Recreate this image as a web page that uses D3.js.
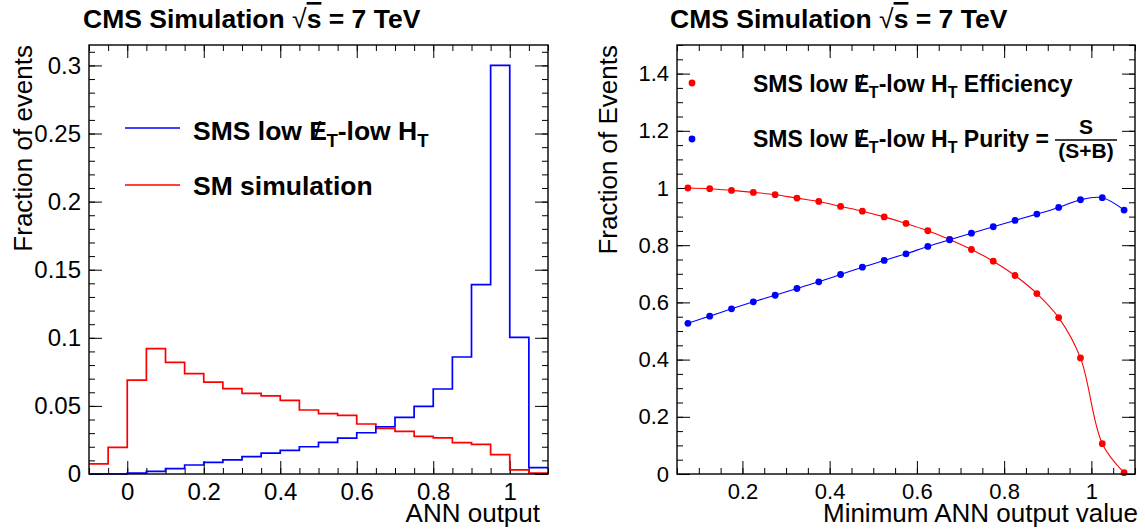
<!DOCTYPE html>
<html>
<head>
<meta charset="utf-8">
<script src="https://cdn.jsdelivr.net/npm/d3@7"></script>
<style>
body { margin: 0; background: #fff; }
svg { font-family: "Liberation Sans", Arial, Helvetica, sans-serif; }
</style>
</head>
<body>
<svg id="chart" width="1145" height="530"></svg>
<script>
// left pad: ANN output, bins of 0.05 (low edges)
const binLow = [-0.1, -0.05, 0, 0.05, 0.1, 0.15, 0.2, 0.25, 0.3, 0.35, 0.4, 0.45,
                0.5, 0.55, 0.6, 0.65, 0.7, 0.75, 0.8, 0.85, 0.9, 0.95, 1.0, 1.05];
const binHigh = 1.1;
const smsFrac = [0, 0, 0.0007, 0.0019, 0.004, 0.0066, 0.0085, 0.0103, 0.0127, 0.0154, 0.0174, 0.02,
                 0.0232, 0.0264, 0.0303, 0.0347, 0.0416, 0.0497, 0.0624, 0.0859, 0.139, 0.300, 0.1003, 0.0047];
const smFrac = [0.0075, 0.0195, 0.069, 0.092, 0.082, 0.0737, 0.0675, 0.0627, 0.0592, 0.0573, 0.054, 0.047,
                0.0443, 0.0431, 0.0367, 0.0335, 0.0313, 0.0277, 0.0265, 0.023, 0.0218, 0.0142, 0.003, 0.0007];
const xLeftTicks = [0, 0.2, 0.4, 0.6, 0.8, 1];
const yLeftTicks = [0, 0.05, 0.1, 0.15, 0.2, 0.25, 0.3];

// right pad: efficiency / purity vs cut
const annCut = [0.075, 0.125, 0.175, 0.225, 0.275, 0.325, 0.375, 0.425, 0.475, 0.525, 0.575,
                0.625, 0.675, 0.725, 0.775, 0.825, 0.875, 0.925, 0.975, 1.025, 1.075];
const efficiency = [1.0, 0.9975, 0.9916, 0.9846, 0.9765, 0.9647, 0.953, 0.9356, 0.919, 0.899, 0.876,
                    0.8505, 0.82, 0.785, 0.744, 0.694, 0.631, 0.547, 0.406, 0.106, 0.0045];
const purity = [0.527, 0.552, 0.5775, 0.602, 0.625, 0.6486, 0.672, 0.6975, 0.723, 0.7466, 0.77,
                0.7956, 0.819, 0.842, 0.8645, 0.8866, 0.9087, 0.932, 0.959, 0.966, 0.9227];
const xRightTicks = [0.2, 0.4, 0.6, 0.8, 1];
const yRightTicks = [0, 0.2, 0.4, 0.6, 0.8, 1, 1.2, 1.4];

const svg = d3.select('#chart');
svg.append('rect').attr('width', 1145).attr('height', 530).attr('fill', '#fff');

function minorTicks(domain, step) {
  const out = [];
  const start = Math.ceil(domain[0] / step - 1e-6);
  for (let i = start; i * step <= domain[1] + 1e-9; i++) out.push(+(i * step).toFixed(4));
  return out;
}

function rootFrame(x, y, xMajor, yMajor, xStep, yStep, fs) {
  const [x0, x1] = x.range(), [y0, y1] = y.range();
  const g = svg.append('g');
  const style = a => a.attr('font-family', null).attr('font-size', fs)
    .call(s => s.select('.domain').remove())
    .call(s => s.selectAll('line').attr('stroke', '#000'));

  g.append('g').attr('transform', `translate(0,${y0})`)
    .call(d3.axisBottom(x).tickValues(minorTicks(x.domain(), xStep)).tickSize(-6).tickFormat('')).call(style);
  g.append('g').attr('transform', `translate(0,${y0})`)
    .call(d3.axisBottom(x).tickValues(xMajor).tickSize(-13).tickPadding(9).tickFormat(d3.format('~g'))).call(style);
  g.append('g').attr('transform', `translate(0,${y1})`)
    .call(d3.axisTop(x).tickValues(minorTicks(x.domain(), xStep)).tickSize(-6).tickFormat('')).call(style);
  g.append('g').attr('transform', `translate(0,${y1})`)
    .call(d3.axisTop(x).tickValues(xMajor).tickSize(-13).tickFormat('')).call(style);

  g.append('g').attr('transform', `translate(${x0},0)`)
    .call(d3.axisLeft(y).tickValues(minorTicks(y.domain(), yStep)).tickSize(-6).tickFormat('')).call(style);
  g.append('g').attr('transform', `translate(${x0},0)`)
    .call(d3.axisLeft(y).tickValues(yMajor).tickSize(-13).tickPadding(8).tickFormat(d3.format('~g'))).call(style);
  g.append('g').attr('transform', `translate(${x1},0)`)
    .call(d3.axisRight(y).tickValues(minorTicks(y.domain(), yStep)).tickSize(-6).tickFormat('')).call(style);
  g.append('g').attr('transform', `translate(${x1},0)`)
    .call(d3.axisRight(y).tickValues(yMajor).tickSize(-13).tickFormat('')).call(style);

  g.selectAll('text').attr('fill', '#000');
  return g;
}

function drawFrameBox(x, y) {
  svg.append('rect')
    .attr('x', x.range()[0]).attr('y', y.range()[1])
    .attr('width', x.range()[1] - x.range()[0])
    .attr('height', y.range()[0] - y.range()[1])
    .attr('fill', 'none').attr('stroke', '#000').attr('stroke-width', 1.4);
}

function title(xPos) {
  const t = svg.append('text').attr('x', xPos).attr('y', 28)
    .attr('font-size', 26.5).attr('font-weight', 'bold');
  t.append('tspan').text('CMS Simulation ');
  t.append('tspan').attr('font-weight', 'normal').text('\u221A');
  t.append('tspan').style('text-decoration', 'overline').text('s');
  t.append('tspan').text(' = 7 TeV');
}

// "SMS low E/T-low HT" with slashed E and subscripts
function metLabel(sel, fs, tail) {
  sel.append('tspan').text('SMS low E');
  sel.append('tspan').attr('dx', -0.5 * fs).attr('font-weight', 'normal').text('/');
  sel.append('tspan').attr('dx', 0.2 * fs).attr('dy', 0.28 * fs).attr('font-size', 0.7 * fs).text('T');
  sel.append('tspan').attr('dy', -0.28 * fs).text('-low H');
  sel.append('tspan').attr('dy', 0.28 * fs).attr('font-size', 0.7 * fs).text('T');
  if (tail) sel.append('tspan').attr('dy', -0.28 * fs).text(tail);
}

// ---------- left: histograms ----------
const xL = d3.scaleLinear().domain([-0.1, 1.1]).range([89, 548]);
const yL = d3.scaleLinear().domain([0, 0.315]).range([474, 45]);

rootFrame(xL, yL, xLeftTicks, yLeftTicks, 0.05, 0.01, 24);

const histLine = d3.line().x(d => xL(d[0])).y(d => yL(d[1])).curve(d3.curveStepAfter);
function histPoints(vals) {
  const pts = binLow.map((b, i) => [b, vals[i]]);
  pts.push([binHigh, vals[vals.length - 1]]);
  return pts;
}
svg.append('path').attr('d', histLine(histPoints(smFrac)))
  .attr('fill', 'none').attr('stroke', '#ff0000').attr('stroke-width', 1.7);
svg.append('path').attr('d', histLine(histPoints(smsFrac)))
  .attr('fill', 'none').attr('stroke', '#0000ff').attr('stroke-width', 1.7);
drawFrameBox(xL, yL);

title(83);

svg.append('line').attr('x1', 125).attr('x2', 180).attr('y1', 128).attr('y2', 128)
  .attr('stroke', '#0000ff').attr('stroke-width', 1.7);
svg.append('line').attr('x1', 125).attr('x2', 180).attr('y1', 185).attr('y2', 185)
  .attr('stroke', '#ff0000').attr('stroke-width', 1.7);
metLabel(svg.append('text').attr('x', 193).attr('y', 140).attr('font-size', 26.5).attr('font-weight', 'bold'), 26.5);
svg.append('text').attr('x', 193).attr('y', 195).attr('font-size', 26.5).attr('font-weight', 'bold')
  .text('SM simulation');

svg.append('text').attr('transform', 'translate(32,45) rotate(-90)')
  .attr('text-anchor', 'end').attr('font-size', 26).text('Fraction of events');
svg.append('text').attr('x', 540).attr('y', 522)
  .attr('text-anchor', 'end').attr('font-size', 26).text('ANN output');

// ---------- right: efficiency and purity ----------
const xR = d3.scaleLinear().domain([0.05, 1.1]).range([677, 1135]);
const yR = d3.scaleLinear().domain([0, 1.5]).range([474, 45]);

rootFrame(xR, yR, xRightTicks, yRightTicks, 0.05, 0.05, 22);

const smooth = d3.line().x(d => xR(d[0])).y(d => yR(d[1])).curve(d3.curveCatmullRom.alpha(0.5));
const series = [
  { vals: efficiency, color: '#ff0000' },
  { vals: purity, color: '#0000ff' }
];
series.forEach(s => {
  const pts = annCut.map((c, i) => [c, s.vals[i]]);
  svg.append('path').attr('d', smooth(pts))
    .attr('fill', 'none').attr('stroke', s.color).attr('stroke-width', 1.1);
  svg.append('g').selectAll('circle')
    .data(pts)
    .join('circle')
      .attr('cx', d => xR(d[0]))
      .attr('cy', d => yR(d[1]))
      .attr('r', 3.4)
      .attr('fill', s.color);
});
drawFrameBox(xR, yR);

title(670);

svg.append('circle').attr('cx', 692).attr('cy', 83).attr('r', 3.4).attr('fill', '#ff0000');
svg.append('circle').attr('cx', 692).attr('cy', 139).attr('r', 3.4).attr('fill', '#0000ff');
metLabel(svg.append('text').attr('x', 753).attr('y', 92).attr('font-size', 23).attr('font-weight', 'bold'), 23, ' Efficiency');
metLabel(svg.append('text').attr('x', 753).attr('y', 147).attr('font-size', 23).attr('font-weight', 'bold'), 23, ' Purity =');
svg.append('text').attr('x', 1086).attr('y', 134).attr('text-anchor', 'middle')
  .attr('font-size', 21).attr('font-weight', 'bold').text('S');
svg.append('line').attr('x1', 1055).attr('x2', 1117).attr('y1', 140).attr('y2', 140)
  .attr('stroke', '#000').attr('stroke-width', 1.5);
svg.append('text').attr('x', 1086).attr('y', 158).attr('text-anchor', 'middle')
  .attr('font-size', 21).attr('font-weight', 'bold').text('(S+B)');

svg.append('text').attr('transform', 'translate(617,45) rotate(-90)')
  .attr('text-anchor', 'end').attr('font-size', 26).text('Fraction of Events');
svg.append('text').attr('x', 1138).attr('y', 522)
  .attr('text-anchor', 'end').attr('font-size', 26).text('Minimum ANN output value');
</script>
</body>
</html>
